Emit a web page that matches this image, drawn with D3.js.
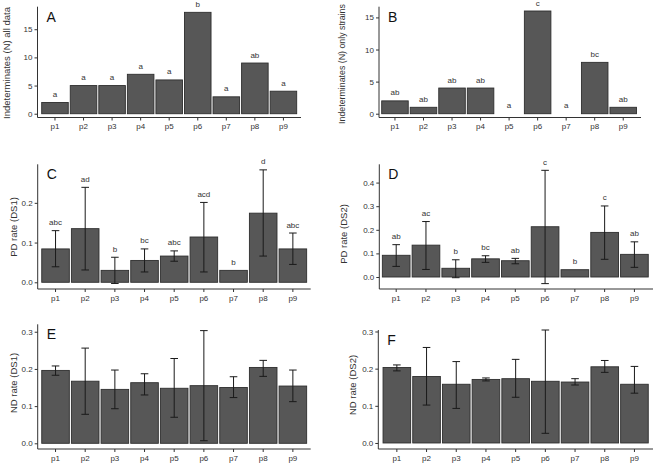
<!DOCTYPE html>
<html>
<head>
<meta charset="utf-8">
<script src="https://cdn.jsdelivr.net/npm/d3@7"></script>
<style>
  body { margin: 0; background: #fff; }
  svg { display: block; }
  text { font-family: "Liberation Sans", Arial, sans-serif; }
</style>
</head>
<body>
<div id="chart"></div>
<script>
// categories
var groups = ["p1", "p2", "p3", "p4", "p5", "p6", "p7", "p8", "p9"];

// A: indeterminates, all data
var indetAll = [2, 5, 5, 7, 6, 18, 3, 9, 4];
var lettersA = ["a", "a", "a", "a", "a", "b", "a", "ab", "a"];

// B: indeterminates, only strains
var indetStrains = [2, 1, 4, 4, 0, 16, 0, 8, 1];
var lettersB = ["ab", "ab", "ab", "ab", "a", "c", "a", "bc", "ab"];

// C: PD rate (DS1)
var pdDs1 = [0.084, 0.135, 0.030, 0.055, 0.066, 0.114, 0.030, 0.174, 0.084];
var pdDs1Lo = [0.039, 0.031, -0.003, 0.026, 0.053, 0.026, null, 0.066, 0.045];
var pdDs1Hi = [0.130, 0.239, 0.063, 0.084, 0.079, 0.201, null, 0.283, 0.124];
var lettersC = ["abc", "ad", "b", "bc", "abc", "acd", "b", "d", "abc"];

// D: PD rate (DS2)
var pdDs2 = [0.092, 0.135, 0.037, 0.077, 0.069, 0.213, 0.031, 0.189, 0.096];
var pdDs2Lo = [0.045, 0.032, -0.003, 0.062, 0.056, -0.028, null, 0.075, 0.041];
var pdDs2Hi = [0.137, 0.235, 0.073, 0.090, 0.079, 0.452, null, 0.301, 0.149];
var lettersD = ["ab", "ac", "b", "bc", "ab", "c", "b", "c", "ab"];

// E: ND rate (DS1)
var ndDs1 = [0.196, 0.167, 0.145, 0.163, 0.148, 0.155, 0.150, 0.204, 0.154];
var ndDs1Lo = [0.183, 0.078, 0.093, 0.130, 0.070, 0.007, 0.123, 0.180, 0.112];
var ndDs1Hi = [0.208, 0.256, 0.197, 0.187, 0.228, 0.303, 0.179, 0.223, 0.197];

// F: ND rate (DS2)
var ndDs2 = [0.203, 0.179, 0.158, 0.171, 0.173, 0.166, 0.164, 0.205, 0.158];
var ndDs2Lo = [0.194, 0.102, 0.093, 0.167, 0.123, 0.026, 0.156, 0.190, 0.134];
var ndDs2Hi = [0.210, 0.257, 0.219, 0.175, 0.225, 0.304, 0.173, 0.222, 0.206];

var ticksCount = [0, 5, 10, 15];
var ticksPdDs1 = [0, 0.1, 0.2];
var ticksPdDs2 = [0, 0.1, 0.2, 0.3, 0.4];
var ticksNd = [0, 0.1, 0.2, 0.3];

var panels = [
  {tag: "A", title: "Indeterminates (N) all data", vals: indetAll, letters: lettersA, ticks: ticksCount, fmt: d3.format("d"),
   ax: 37.5, b0: 41.7, b1: 296.7, ax1: 301, top: 6.7, bot: 117.5, dom: [-0.67, 19.0], tx: 6, ty: 63, ts: 9.5},
  {tag: "B", title: "Indeterminates (N) only strains", vals: indetStrains, letters: lettersB, ticks: ticksCount, fmt: d3.format("d"),
   ax: 379, b0: 381.7, b1: 636.5, ax1: 641, top: 6.7, bot: 117.5, dom: [-0.59, 16.67], tx: 342, ty: 64, ts: 8.8},
  {tag: "C", title: "PD rate (DS1)", vals: pdDs1, lo: pdDs1Lo, hi: pdDs1Hi, letters: lettersC, ticks: ticksPdDs1, fmt: d3.format(".1f"),
   ax: 37.7, b0: 41.7, b1: 306.7, ax1: 310.7, top: 164.3, bot: 289, dom: [-0.0169, 0.297], tx: 13, ty: 227, ts: 9.5},
  {tag: "D", title: "PD rate (DS2)", vals: pdDs2, lo: pdDs2Lo, hi: pdDs2Hi, letters: lettersD, ticks: ticksPdDs2, fmt: d3.format(".1f"),
   ax: 379.3, b0: 382.3, b1: 648.3, ax1: 653, top: 164.3, bot: 289, dom: [-0.0508, 0.4775], tx: 343, ty: 234, ts: 9.5},
  {tag: "E", title: "ND rate (DS1)", vals: ndDs1, lo: ndDs1Lo, hi: ndDs1Hi, letters: null, ticks: ticksNd, fmt: d3.format(".1f"),
   ax: 37.7, b0: 41.7, b1: 306.7, ax1: 310.7, top: 324.3, bot: 449, dom: [-0.0153, 0.320], tx: 13, ty: 383, ts: 9.5},
  {tag: "F", title: "ND rate (DS2)", vals: ndDs2, lo: ndDs2Lo, hi: ndDs2Hi, letters: null, ticks: ticksNd, fmt: d3.format(".1f"),
   ax: 378.3, b0: 383, b1: 648.3, ax1: 653, top: 330, bot: 449, dom: [-0.0162, 0.304], tx: 352, ty: 385, ts: 9.5}
];

var svg = d3.select("#chart")
    .append("svg")
    .attr("width", 653)
    .attr("height", 464);

var axisColor = "#333";

panels.forEach(function(p) {
    var g = svg.append("g");

    var x = d3.scaleBand()
        .domain(groups)
        .range([p.b0 - 1, p.b1 + 1])
        .paddingInner(0.07)
        .paddingOuter(0.035);
    var y = d3.scaleLinear().domain(p.dom).range([p.bot, p.top]);

    var rows = groups.map(function(k, i) {
        return {k: k, v: p.vals[i],
                lo: p.lo ? p.lo[i] : null, hi: p.hi ? p.hi[i] : null,
                lab: p.letters ? p.letters[i] : null};
    });

    // bars
    g.selectAll("rect.bar")
        .data(rows.filter(function(d) { return d.v > 0; }))
        .enter().append("rect")
        .attr("class", "bar")
        .attr("x", function(d) { return x(d.k); })
        .attr("width", x.bandwidth())
        .attr("y", function(d) { return y(d.v); })
        .attr("height", function(d) { return y(0) - y(d.v); })
        .attr("fill", "#575757")
        .attr("stroke", "#2e2e2e")
        .attr("stroke-width", 0.9);

    // error bars
    var eb = rows.filter(function(d) { return d.lo !== null; });
    var cx = function(d) { return x(d.k) + x.bandwidth() / 2; };
    var cap = 3.8;
    var eg = g.selectAll("g.err").data(eb).enter().append("g").attr("class", "err")
        .attr("stroke", "#1a1a1a").attr("stroke-width", 1);
    eg.append("line")
        .attr("x1", cx).attr("x2", cx)
        .attr("y1", function(d) { return y(d.lo); })
        .attr("y2", function(d) { return y(d.hi); });
    eg.append("line")
        .attr("x1", function(d) { return cx(d) - cap; })
        .attr("x2", function(d) { return cx(d) + cap; })
        .attr("y1", function(d) { return y(d.lo); })
        .attr("y2", function(d) { return y(d.lo); });
    eg.append("line")
        .attr("x1", function(d) { return cx(d) - cap; })
        .attr("x2", function(d) { return cx(d) + cap; })
        .attr("y1", function(d) { return y(d.hi); })
        .attr("y2", function(d) { return y(d.hi); });

    // letters
    if (p.letters) {
        g.selectAll("text.sig")
            .data(rows)
            .enter().append("text")
            .attr("class", "sig")
            .attr("x", cx)
            .attr("y", function(d) {
                var t = d.hi !== null ? Math.max(d.v, d.hi) : d.v;
                return y(t) - 5.5;
            })
            .attr("text-anchor", "middle")
            .attr("font-size", "8px")
            .attr("fill", "#333")
            .text(function(d) { return d.lab; });
    }

    // axes
    var yAxis = g.append("g")
        .attr("transform", "translate(" + p.ax + ",0)")
        .call(d3.axisLeft(y).tickValues(p.ticks).tickFormat(p.fmt).tickSize(3).tickPadding(2));
    yAxis.select(".domain").remove();
    yAxis.selectAll("line").attr("stroke", axisColor);
    yAxis.selectAll("text").attr("font-size", "8px").attr("fill", "#333")
        .attr("font-family", "Liberation Sans, Arial, sans-serif");

    var xAxis = g.append("g")
        .attr("transform", "translate(0," + p.bot + ")")
        .call(d3.axisBottom(x).tickSize(3).tickPadding(3));
    xAxis.select(".domain").remove();
    xAxis.selectAll("line").attr("stroke", axisColor);
    xAxis.selectAll("text").attr("font-size", "8px").attr("fill", "#333")
        .attr("font-family", "Liberation Sans, Arial, sans-serif");

    g.append("line")
        .attr("x1", p.ax).attr("x2", p.ax)
        .attr("y1", p.top).attr("y2", p.bot)
        .attr("stroke", axisColor);
    g.append("line")
        .attr("x1", p.ax).attr("x2", p.ax1)
        .attr("y1", p.bot).attr("y2", p.bot)
        .attr("stroke", axisColor);

    // axis title
    g.append("text")
        .attr("transform", "translate(" + p.tx + "," + p.ty + ") rotate(-90)")
        .attr("text-anchor", "middle")
        .attr("dominant-baseline", "central")
        .attr("font-size", p.ts + "px")
        .attr("fill", "#333")
        .text(p.title);

    // panel tag
    g.append("text")
        .attr("x", p.ax + 9)
        .attr("y", p.top + 15)
        .attr("font-family", "Open Sans, sans-serif")
        .attr("font-size", "14px")
        .attr("fill", "#111")
        .text(p.tag);
});
</script>
</body>
</html>
